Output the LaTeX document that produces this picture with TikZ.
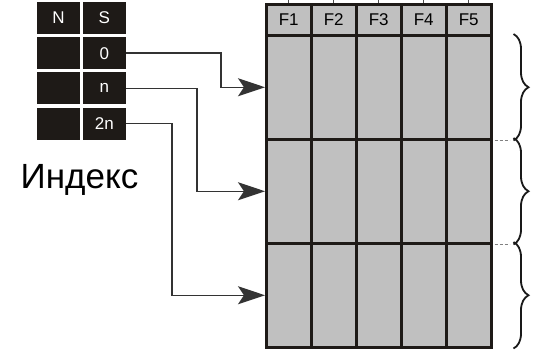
\documentclass[tikz,border=0pt]{standalone}
\usepackage{fontspec}
\setmainfont{Liberation Sans}
\usetikzlibrary{positioning,arrows.meta,decorations.pathreplacing}
\definecolor{idxdark}{HTML}{1E1A17}
\definecolor{cellgray}{HTML}{C0C0C0}

\begin{document}
\begin{tikzpicture}[x=1pt,y=-1pt,
  idx/.style={fill=idxdark, text=white, minimum width=43pt, minimum height=32pt, inner sep=0pt, font=\fontsize{17}{17}\selectfont},
  cell/.style={draw=idxdark, line width=2.5pt, fill=cellgray, minimum width=45pt, inner sep=0pt, anchor=north west, font=\fontsize{17}{17}\selectfont},
  conn/.style={draw=black!80, line width=1.5pt, -{Stealth[length=27pt,width=18pt,inset=6pt]}},
  grp/.style={decorate, decoration={brace,amplitude=15pt}, line width=1.8pt, draw=black!90}]
\useasboundingbox (0,0) rectangle (533,349);

\node[idx] (N) at (58.5,18) {N};
\node[idx, right=2.5pt of N] (S) {S};
\node[idx, below=2.8pt of N] (N0) {};
\node[idx, below=2.8pt of S] (S0) {0};
\node[idx, below=2.8pt of N0] (N1) {};
\node[idx, below=2.8pt of S0] (S1) {n};
\node[idx, below=2.8pt of N1] (N2) {};
\node[idx, below=2.8pt of S1] (S2) {2n};

\node[font=\fontsize{35}{35}\selectfont, anchor=base] (lbl) at (79.5,188) {Индекс};

\foreach \i in {1,...,5} {
  \node[cell, minimum height=31pt] (f\i) at ({265+45*(\i-1)},3) {F\i};
  \draw[black!70, line width=1pt] (f\i.north) -- ++(0,-3);
  \foreach \r in {1,2,3}
    \node[cell, minimum height=104pt] (c\r\i) at ({265+45*(\i-1)},{34+104*(\r-1)}) {};
}

\draw[conn] (S0.east) -- ++(95,0) |- (c11.west);
\draw[conn] (S1.east) -- ++(71,0) |- (c21.west);
\draw[conn] (S2.east) -- ++(46,0) |- (c31.west);

\foreach \r in {1,2,3} {
  \draw[grp] ([xshift=21pt]c\r5.north east) -- ([xshift=21pt]c\r5.south east);
  \draw[gray, line width=1.4pt] ([xshift=41pt,yshift=4.5pt]c\r5.east) -- ([xshift=41pt,yshift=-4.5pt]c\r5.east);
}
\foreach \r in {1,2}
  \draw[gray, line width=1.2pt, dash pattern=on 3pt off 2pt] ([xshift=2pt]c\r5.south east) -- ([xshift=17pt]c\r5.south east);

\end{tikzpicture}
\end{document}
